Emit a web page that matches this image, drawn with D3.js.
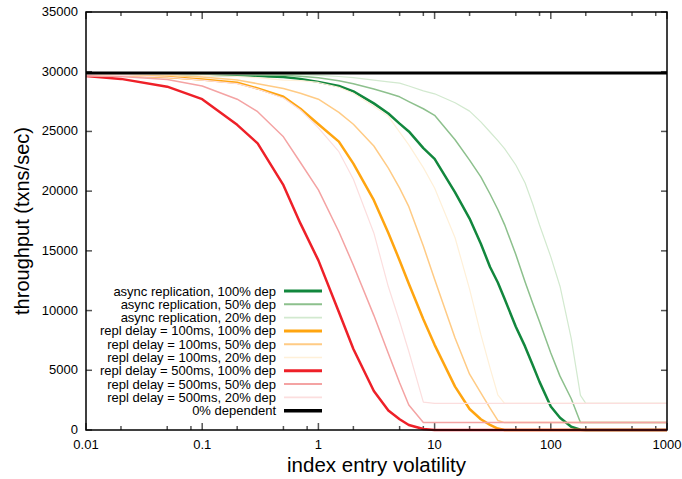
<!DOCTYPE html>
<html>
<head>
<meta charset="utf-8">
<script src="https://cdn.jsdelivr.net/npm/d3@7"></script>
<style>
  body { margin: 0; background: #fff; }
  text { font-family: "Liberation Sans", Arial, sans-serif; }
</style>
</head>
<body>
<div id="chart"></div>
<script>
// index entry volatility (x, log scale)
const volatility = [0.01, 0.02, 0.05, 0.1, 0.2, 0.3, 0.5, 0.7, 1, 1.5, 2, 3, 4, 5, 6, 8, 10, 15, 20, 25, 30, 35, 40, 50, 60, 70, 80, 100, 120, 150, 180, 200, 300, 500, 1000];

// throughput (txns/sec), one list per series
const async100 = [29750, 29750, 29750, 29750, 29700, 29650, 29550, 29400, 29150, 28800, 28350, 27350, 26500, 25650, 25000, 23600, 22700, 19900, 17700, 15600, 13650, 12350, 10990, 8650, 7000, 5430, 4030, 1970, 1030, 270, 30, 0, 0, 0, 0];
const async50 = [29800, 29800, 29800, 29780, 29750, 29730, 29700, 29620, 29500, 29250, 29000, 28550, 28200, 27900, 27500, 26900, 26350, 24300, 22600, 21200, 19760, 18460, 17200, 14700, 12410, 10600, 9060, 6450, 4510, 2620, 620, 620, 620, 620, 620];
const async20 = [29800, 29800, 29800, 29800, 29800, 29790, 29780, 29750, 29700, 29600, 29500, 29300, 29150, 29050, 28800, 28400, 28150, 27400, 26700, 25800, 24950, 24230, 23560, 22190, 20700, 18900, 17170, 14500, 12040, 7650, 2900, 2230, 2230, 2230, 2230];
const delay100ms100 = [29750, 29700, 29550, 29350, 29080, 28600, 27900, 26900, 25600, 24150, 22300, 19240, 16500, 14200, 12250, 9270, 7130, 3630, 1760, 900, 430, 120, 0, 0, 0, 0, 0, 0, 0, 0, 0, 0, 0, 0, 0];
const delay100ms50 = [29750, 29750, 29700, 29550, 29300, 29000, 28600, 28200, 27700, 26600, 25600, 23780, 21930, 20250, 18700, 15400, 12630, 7700, 4670, 3100, 1840, 800, 620, 620, 620, 620, 620, 620, 620, 620, 620, 620, 620, 620, 620];
const delay100ms20 = [29800, 29780, 29750, 29700, 29600, 29500, 29300, 29250, 29100, 28700, 28200, 27100, 26260, 24940, 23870, 21970, 20260, 16100, 11800, 8000, 5200, 2950, 2230, 2230, 2230, 2230, 2230, 2230, 2230, 2230, 2230, 2230, 2230, 2230, 2230];
const delay500ms100 = [29650, 29400, 28750, 27700, 25550, 24000, 20500, 17300, 14200, 9880, 6780, 3270, 1630, 900, 420, 80, 0, 0, 0, 0, 0, 0, 0, 0, 0, 0, 0, 0, 0, 0, 0, 0, 0, 0, 0];
const delay500ms50 = [29650, 29600, 29350, 28800, 27700, 26650, 24550, 22400, 20100, 16600, 13800, 9600, 6400, 3960, 2100, 620, 620, 620, 620, 620, 620, 620, 620, 620, 620, 620, 620, 620, 620, 620, 620, 620, 620, 620, 620];
const delay500ms20 = [29750, 29700, 29550, 29300, 29000, 28550, 27800, 26800, 25300, 23300, 20990, 16500, 11990, 9080, 6570, 2340, 2230, 2230, 2230, 2230, 2230, 2230, 2230, 2230, 2230, 2230, 2230, 2230, 2230, 2230, 2230, 2230, 2230, 2230, 2230];
const noDependent = [29900, 29900, 29900, 29900, 29900, 29900, 29900, 29900, 29900, 29900, 29900, 29900, 29900, 29900, 29900, 29900, 29900, 29900, 29900, 29900, 29900, 29900, 29900, 29900, 29900, 29900, 29900, 29900, 29900, 29900, 29900, 29900, 29900, 29900, 29900];

const seriesNames = [
    'async replication, 100% dep',
    'async replication, 50% dep',
    'async replication, 20% dep',
    'repl delay = 100ms, 100% dep',
    'repl delay = 100ms, 50% dep',
    'repl delay = 100ms, 20% dep',
    'repl delay = 500ms, 100% dep',
    'repl delay = 500ms, 50% dep',
    'repl delay = 500ms, 20% dep',
    '0% dependent'
];
const seriesValues = [async100, async50, async20, delay100ms100, delay100ms50, delay100ms20,
    delay500ms100, delay500ms50, delay500ms20, noDependent];

const xTickValues = [0.01, 0.1, 1, 10, 100, 1000];
const yTickValues = [0, 5000, 10000, 15000, 20000, 25000, 30000, 35000];

(function () {
    const width = 682;
    const height = 479;
    const plot = { left: 86, right: 667, top: 12, bottom: 430 };

    const colors = ['#12873d', '#8dc08d', '#d2e9cf', '#ffa510', '#ffcb85', '#fff0d8',
        '#ee2028', '#f4a3a3', '#fcdede', '#000000'];
    const widths = [2.5, 1.5, 1.2, 2.5, 1.5, 1.2, 2.5, 1.5, 1.2, 3];

    const svg = d3.select('#chart')
        .append('svg')
        .attr('width', width)
        .attr('height', height);

    const x = d3.scaleLog().domain([0.01, 1000]).range([plot.left, plot.right]);
    const y = d3.scaleLinear().domain([0, 35000]).range([plot.bottom, plot.top]);

    // minor ticks at 2, 5, 8 of each decade
    const minorX = [];
    xTickValues.slice(0, -1).forEach(d => [2, 5, 8].forEach(m => minorX.push(d * m)));

    const tickColor = '#555';
    const ticks = svg.append('g');
    xTickValues.forEach(v => {
        ticks.append('line').attr('x1', x(v)).attr('x2', x(v))
            .attr('y1', plot.bottom).attr('y2', plot.bottom - 7);
        ticks.append('line').attr('x1', x(v)).attr('x2', x(v))
            .attr('y1', plot.top).attr('y2', plot.top + 7);
    });
    minorX.forEach(v => {
        ticks.append('line').attr('x1', x(v)).attr('x2', x(v))
            .attr('y1', plot.bottom).attr('y2', plot.bottom - 4);
        ticks.append('line').attr('x1', x(v)).attr('x2', x(v))
            .attr('y1', plot.top).attr('y2', plot.top + 4);
    });
    yTickValues.forEach(v => {
        ticks.append('line').attr('x1', plot.left).attr('x2', plot.left + 6)
            .attr('y1', y(v)).attr('y2', y(v));
        ticks.append('line').attr('x1', plot.right).attr('x2', plot.right - 6)
            .attr('y1', y(v)).attr('y2', y(v));
    });
    ticks.selectAll('line').attr('stroke', tickColor).attr('stroke-width', 1.5);

    // tick labels
    svg.append('g').selectAll('text')
        .data(xTickValues)
        .enter().append('text')
        .attr('x', d => x(d))
        .attr('y', plot.bottom + 19)
        .attr('text-anchor', 'middle')
        .attr('font-size', 13)
        .text(d => String(d));

    svg.append('g').selectAll('text')
        .data(yTickValues)
        .enter().append('text')
        .attr('x', plot.left - 8)
        .attr('y', d => y(d) + 4)
        .attr('text-anchor', 'end')
        .attr('font-size', 13)
        .text(d => String(d));

    // axis titles
    svg.append('text')
        .attr('x', (plot.left + plot.right) / 2)
        .attr('y', 472)
        .attr('text-anchor', 'middle')
        .attr('font-size', 20.5)
        .text('index entry volatility');

    svg.append('text')
        .attr('transform', `translate(29,${(plot.top + plot.bottom) / 2}) rotate(-90)`)
        .attr('text-anchor', 'middle')
        .attr('font-size', 20)
        .text('throughput (txns/sec)');

    // curves
    const line = d3.line()
        .x(d => x(d[0]))
        .y(d => y(d[1]));

    svg.append('g').selectAll('path')
        .data(seriesValues)
        .enter().append('path')
        .attr('d', vals => line(volatility.map((v, i) => [v, vals[i]])))
        .attr('fill', 'none')
        .attr('stroke', (d, i) => colors[i])
        .attr('stroke-width', (d, i) => widths[i])
        .attr('stroke-linejoin', 'round');

    // frame
    svg.append('rect')
        .attr('x', plot.left).attr('y', plot.top)
        .attr('width', plot.right - plot.left)
        .attr('height', plot.bottom - plot.top)
        .attr('fill', 'none')
        .attr('stroke', '#000')
        .attr('stroke-width', 1.5);

    // legend
    const legend = svg.append('g');
    const rowY = i => 291 + i * 13.3;
    seriesNames.forEach((name, i) => {
        legend.append('text')
            .attr('x', 276)
            .attr('y', rowY(i) + 4.5)
            .attr('text-anchor', 'end')
            .attr('font-size', 13)
            .text(name);
        legend.append('line')
            .attr('x1', 284).attr('x2', 322)
            .attr('y1', rowY(i)).attr('y2', rowY(i))
            .attr('stroke', colors[i])
            .attr('stroke-width', widths[i] + 0.5);
    });
})();
</script>
</body>
</html>
